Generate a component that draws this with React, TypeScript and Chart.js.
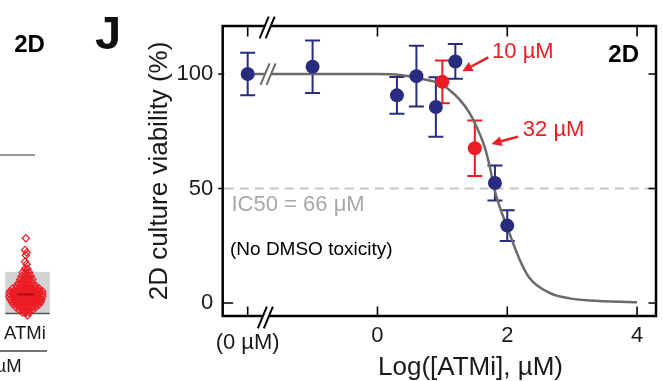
import React, { useEffect, useRef } from 'react';
import { Chart, registerables } from 'chart.js';

Chart.register(...registerables);

// ---------------- data (panel J) ----------------
const xTickValues = [-2, 0, 2, 4];
const xTickLabels = ['(0 µM)', '0', '2', '4'];
const yTickValues = [0, 50, 100];

const dmsoLogConc = [-2, -1, 0.3, 0.6, 0.9, 1.2, 1.81, 2.0];
const dmsoViability = [100, 103.2, 90.7, 99.1, 85.6, 105.5, 52.4, 33.8];
const dmsoSem = [9.3, 11.5, 8, 13.3, 13, 7.6, 7.6, 6.7];

const atmiLogConc = [1.0, 1.5];
const atmiViability = [96.6, 67.6];
const atmiSem = [9.3, 12.1];
const atmiLabels = ['10 µM', '32 µM'];

const fitLogConc = [-2, -1, 0, 0.35, 0.65, 0.96, 1.11, 1.27, 1.42, 1.57, 1.65, 1.73, 1.8, 2.03, 2.19, 2.34, 2.65, 2.96, 3.27, 4];
const fitViability = [100, 100, 100, 99.6, 98.1, 95.9, 93, 88.7, 82.9, 74.2, 68.3, 59.6, 49.9, 30.7, 19, 11, 4.4, 2, 1.1, 0.3];

const ic50Level = 50;

// ---------------- data (cropped neighbouring panel) ----------------
const swarmLevels = [8.4, 7.1, 6.8, 6.5, 5.8, 5.5, 5.0, 4.6, 4.2, 3.8, 3.4, 3.1, 2.8, 2.5, 2.2, 1.9, 1.6, 1.3, 1.0, 0.7, 0.4, 0.1, -0.2];
const swarmOffsets = [
  [0], [-1], [1], [0], [-1], [1], [-1, 2], [-4, 0, 4], [-5, -1, 3, 6], [-7, -3, 1, 5, 8], [-9, -5, -1, 3, 7],
  [-11, -7, -3, 1, 5, 9, 12], [-16, -12, -8, -4, 0, 4, 8, 12, 16],
  [-19, -15, -11, -7, -3, 1, 5, 9, 13, 17, 20], [-20, -16, -12, -8, -4, 0, 4, 8, 12, 16, 20],
  [-20, -16, -12, -8, -4, 0, 4, 8, 12, 16, 20], [-19, -15, -11, -7, -3, 1, 5, 9, 13, 17, 19],
  [-17, -13, -9, -5, -1, 3, 7, 11, 15, 18], [-15, -11, -7, -3, 1, 5, 9, 13, 16],
  [-12, -8, -4, 0, 4, 8, 12], [-8, -4, 0, 4, 8], [-4, 0, 4], [2],
];
const swarmBox = [0, 4.65];
const swarmMean = 2.13;

// ---------------- styles ----------------
const FONT = '"Liberation Sans", Arial, Helvetica, sans-serif';
const NAVY = '#272c7e';
const RED = '#ec1c24';
const CURVE = '#6a6a6a';
const INK = '#1a1a1a';

Chart.defaults.font.family = FONT;

function drawErrors(ctx: CanvasRenderingContext2D, x: any, y: any, xs: number[], ys: number[], es: number[], color: string) {
  ctx.save();
  ctx.strokeStyle = color;
  ctx.lineWidth = 2;
  for (let i = 0; i < xs.length; i++) {
    const px = x.getPixelForValue(xs[i]);
    const top = y.getPixelForValue(ys[i] + es[i]);
    const bot = y.getPixelForValue(ys[i] - es[i]);
    ctx.beginPath();
    ctx.moveTo(px, top); ctx.lineTo(px, bot);
    ctx.moveTo(px - 7.5, top); ctx.lineTo(px + 7.5, top);
    ctx.moveTo(px - 7.5, bot); ctx.lineTo(px + 7.5, bot);
    ctx.stroke();
  }
  ctx.restore();
}

function drawBreak(ctx: CanvasRenderingContext2D, cx: number, cy: number, color: string) {
  const hx = 4.5, hy = 10.8, sep = 3;
  ctx.save();
  ctx.fillStyle = '#ffffff';
  ctx.beginPath();
  ctx.moveTo(cx - sep - hx, cy + hy);
  ctx.lineTo(cx - sep + hx, cy - hy);
  ctx.lineTo(cx + sep + hx, cy - hy);
  ctx.lineTo(cx + sep - hx, cy + hy);
  ctx.closePath();
  ctx.fill();
  ctx.strokeStyle = color;
  ctx.lineWidth = 2;
  [-sep, sep].forEach((o) => {
    ctx.beginPath();
    ctx.moveTo(cx + o - hx, cy + hy);
    ctx.lineTo(cx + o + hx, cy - hy);
    ctx.stroke();
  });
  ctx.restore();
}

function drawArrow(ctx: CanvasRenderingContext2D, x1: number, y1: number, x2: number, y2: number, color: string) {
  const ang = Math.atan2(y2 - y1, x2 - x1);
  const headLen = 10, headW = 5;
  const bx = x2 - headLen * Math.cos(ang), by = y2 - headLen * Math.sin(ang);
  ctx.save();
  ctx.strokeStyle = color;
  ctx.fillStyle = color;
  ctx.lineWidth = 2.5;
  ctx.beginPath();
  ctx.moveTo(x1, y1); ctx.lineTo(bx, by);
  ctx.stroke();
  ctx.beginPath();
  ctx.moveTo(x2, y2);
  ctx.lineTo(bx + headW * Math.sin(ang), by - headW * Math.cos(ang));
  ctx.lineTo(bx - headW * Math.sin(ang), by + headW * Math.cos(ang));
  ctx.closePath();
  ctx.fill();
  ctx.restore();
}

function text(ctx: CanvasRenderingContext2D, s: string, x: number, y: number, font: string, color: string, align: CanvasTextAlign = 'left') {
  ctx.save();
  ctx.font = font;
  ctx.fillStyle = color;
  ctx.textAlign = align;
  ctx.textBaseline = 'middle';
  ctx.fillText(s, x, y);
  ctx.restore();
}

const panelPlugin = {
  id: 'panelJ',
  beforeDatasetsDraw(chart: any) {
    const { ctx, chartArea: a, scales } = chart;
    const x = scales.x, y = scales.y;
    const py = y.getPixelForValue(ic50Level);
    ctx.save();
    ctx.strokeStyle = '#c6c6c6';
    ctx.lineWidth = 2;
    ctx.setLineDash([9, 6]);
    ctx.beginPath();
    ctx.moveTo(a.left + 2, py); ctx.lineTo(a.right, py);
    ctx.stroke();
    ctx.restore();
    drawErrors(ctx, x, y, dmsoLogConc, dmsoViability, dmsoSem, NAVY);
    drawErrors(ctx, x, y, atmiLogConc, atmiViability, atmiSem, RED);
  },
  afterDraw(chart: any) {
    const { ctx, chartArea: a, scales } = chart;
    const x = scales.x, y = scales.y;
    // frame
    ctx.save();
    ctx.strokeStyle = '#000';
    ctx.lineWidth = 2.5;
    ctx.strokeRect(a.left, a.top, a.right - a.left, a.bottom - a.top);
    // inward ticks
    ctx.lineWidth = 1.6;
    ctx.beginPath();
    xTickValues.forEach((v) => {
      const px = x.getPixelForValue(v);
      ctx.moveTo(px, a.bottom); ctx.lineTo(px, a.bottom - 9.5);
      ctx.moveTo(px, a.top); ctx.lineTo(px, a.top + 10.5);
    });
    yTickValues.forEach((v) => {
      const py = y.getPixelForValue(v);
      ctx.moveTo(a.right, py); ctx.lineTo(a.right - 7.5, py);
      if (v === 0) { ctx.moveTo(a.left, py); ctx.lineTo(a.left + 10.5, py); }
      else { ctx.moveTo(a.left - 4.5, py); ctx.lineTo(a.left + 1.5, py); }
    });
    ctx.stroke();
    ctx.restore();

    // axis / curve breaks
    const bx = x.getPixelForValue(-1.7);
    drawBreak(ctx, bx, a.top + 1.5, '#000');
    drawBreak(ctx, bx - 1.8, a.bottom + 1.5, '#000');
    drawBreak(ctx, bx + 0.9, y.getPixelForValue(100), CURVE);

    // arrows and concentration labels
    const lab = [
      { dx: 49.7, dy: -30, tip: [20, -10.7], tail: [46, -24.4] },
      { dx: 48, dy: -18.3, tip: [16.7, -4.3], tail: [43.3, -11.6] },
    ];
    atmiLogConc.forEach((v, i) => {
      const px = x.getPixelForValue(v), py = y.getPixelForValue(atmiViability[i]);
      const l = lab[i];
      drawArrow(ctx, px + l.tail[0], py + l.tail[1], px + l.tip[0], py + l.tip[1], RED);
      text(ctx, atmiLabels[i], px + l.dx, py + l.dy, `22px ${FONT}`, RED);
    });

    // panel texts
    text(ctx, '2D', 623.7, 55, `bold 24px ${FONT}`, '#000', 'center');
    text(ctx, 'IC50 = 66 μM', 231.5, 205, `22px ${FONT}`, '#a8a8a8');
    text(ctx, '(No DMSO toxicity)', 230, 250, `19px ${FONT}`, '#000');
    text(ctx, 'Log([ATMi], µM)', 470.5, 368, `26px ${FONT}`, INK, 'center');
    text(ctx, 'J', 108, 36, `bold 47px ${FONT}`, '#111', 'center');

    // cropped neighbouring panel (left edge)
    text(ctx, '2D', 29.5, 45, `bold 24px ${FONT}`, '#000', 'center');
    text(ctx, 'ATMi', 25, 333.5, `18.5px ${FONT}`, INK, 'center');
    text(ctx, 'µM', -4.5, 366.7, `18.5px ${FONT}`, INK);
    ctx.save();
    ctx.strokeStyle = '#7a7a7a';
    ctx.lineWidth = 1.5;
    ctx.beginPath(); ctx.moveTo(0, 155); ctx.lineTo(35, 155); ctx.stroke();
    ctx.strokeStyle = '#444';
    ctx.beginPath(); ctx.moveTo(0, 351); ctx.lineTo(47, 351); ctx.stroke();
    ctx.restore();
  },
};

const swarmPlugin = {
  id: 'swarmDeco',
  beforeDatasetsDraw(chart: any) {
    const { ctx, scales } = chart;
    const x = scales.x, y = scales.y;
    const l = x.getPixelForValue(-25), r = x.getPixelForValue(29);
    const t = y.getPixelForValue(swarmBox[1]), b = y.getPixelForValue(swarmBox[0]);
    ctx.save();
    ctx.fillStyle = '#d2d3d5';
    ctx.fillRect(l, t, r - l, b - t);
    ctx.strokeStyle = '#555';
    ctx.lineWidth = 1.5;
    ctx.beginPath();
    ctx.moveTo(l, b); ctx.lineTo(r, b);
    const c = x.getPixelForValue(0);
    ctx.moveTo(c, b); ctx.lineTo(c, b + 4);
    ctx.stroke();
    ctx.restore();
  },
  afterDatasetsDraw(chart: any) {
    const { ctx, scales } = chart;
    const x = scales.x, y = scales.y;
    const py = y.getPixelForValue(swarmMean);
    ctx.save();
    ctx.strokeStyle = '#a30f12';
    ctx.lineWidth = 2;
    ctx.beginPath();
    ctx.moveTo(x.getPixelForValue(-10), py); ctx.lineTo(x.getPixelForValue(10), py);
    ctx.stroke();
    ctx.restore();
  },
};

export default function App() {
  const mainRef = useRef<HTMLCanvasElement | null>(null);
  const swarmRef = useRef<HTMLCanvasElement | null>(null);

  useEffect(() => {
    const main = new Chart(mainRef.current as HTMLCanvasElement, {
      type: 'scatter',
      data: {
        datasets: [
          {
            label: 'fit',
            data: fitLogConc.map((v, i) => ({ x: v, y: fitViability[i] })),
            showLine: true,
            borderColor: CURVE,
            borderWidth: 2.5,
            pointRadius: 0,
            cubicInterpolationMode: 'monotone',
            order: 3,
          } as any,
          {
            label: 'DMSO',
            data: dmsoLogConc.map((v, i) => ({ x: v, y: dmsoViability[i] })),
            backgroundColor: NAVY,
            borderWidth: 0,
            pointRadius: 7,
            order: 2,
          },
          {
            label: 'ATMi',
            data: atmiLogConc.map((v, i) => ({ x: v, y: atmiViability[i] })),
            backgroundColor: RED,
            borderWidth: 0,
            pointRadius: 7,
            order: 1,
          },
        ],
      },
      options: {
        responsive: false,
        animation: false,
        devicePixelRatio: 1,
        layout: { padding: { left: 144.4, top: 26, right: 6.3, bottom: 25 } },
        plugins: { legend: { display: false }, tooltip: { enabled: false } },
        scales: {
          x: {
            type: 'linear',
            min: -2.385,
            max: 4.292,
            afterBuildTicks: (s: any) => { s.ticks = xTickValues.map((v) => ({ value: v })); },
            afterFit: (s: any) => { s.height = 40; },
            grid: { display: false, drawTicks: false },
            border: { display: false },
            ticks: {
              padding: 6.8,
              color: INK,
              maxRotation: 0,
              autoSkip: false,
              font: (c: any) => ({ family: FONT, size: 22, lineHeight: c.tick && c.tick.value === -2 ? 1.85 : 1.2 }),
              callback: (v: any) => xTickLabels[xTickValues.indexOf(Number(v))],
            },
          },
          y: {
            type: 'linear',
            min: -5.7,
            max: 121,
            afterBuildTicks: (s: any) => { s.ticks = yTickValues.map((v) => ({ value: v })); },
            afterFit: (s: any) => { s.width = 78.3; },
            grid: { display: false, drawTicks: false },
            border: { display: false },
            ticks: { padding: 9.5, color: INK, font: { family: FONT, size: 22 } },
            title: { display: true, text: '2D culture viability (%)', color: INK, padding: 0, font: { family: FONT, size: 26 } },
          },
        },
      } as any,
      plugins: [panelPlugin],
    });

    const swarmPoints: { x: number; y: number }[] = [];
    swarmLevels.forEach((lv, i) => swarmOffsets[i].forEach((o) => swarmPoints.push({ x: o, y: lv })));

    const swarm = new Chart(swarmRef.current as HTMLCanvasElement, {
      type: 'scatter',
      data: {
        datasets: [
          {
            label: 'ATMi',
            data: swarmPoints,
            pointStyle: 'rectRot',
            pointRadius: 3.6,
            borderColor: RED,
            borderWidth: 1.2,
            backgroundColor: 'rgba(0,0,0,0)',
            clip: false,
          } as any,
        ],
      },
      options: {
        responsive: false,
        animation: false,
        devicePixelRatio: 1,
        layout: { padding: 0 },
        plugins: { legend: { display: false }, tooltip: { enabled: false } },
        scales: {
          x: { type: 'linear', display: false, min: -25, max: 35 },
          y: { type: 'linear', display: false, min: -0.7, max: 9.3 },
        },
      } as any,
      plugins: [swarmPlugin],
    });

    return () => {
      main.destroy();
      swarm.destroy();
    };
  }, []);

  return (
    <div style={{ position: 'fixed', left: 0, top: 0, width: 663, height: 381, background: '#fff', overflow: 'hidden' }}>
      <canvas ref={mainRef} width={663} height={381} style={{ position: 'absolute', left: 0, top: 0 }} />
      <canvas ref={swarmRef} width={60} height={100} style={{ position: 'absolute', left: 0, top: 225 }} />
    </div>
  );
}
